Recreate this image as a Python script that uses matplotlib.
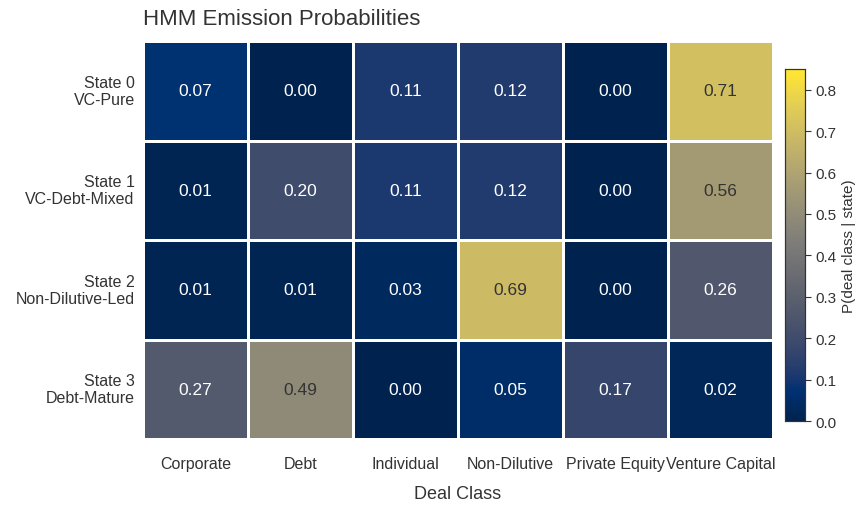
import numpy as np
import pandas as pd
import seaborn as sns
import matplotlib
matplotlib.use("Agg")
import matplotlib.pyplot as plt

deal_classes = ["Corporate", "Debt", "Individual", "Non-Dilutive",
                "Private Equity", "Venture Capital"]
states = ["State 0\nVC-Pure", "State 1\nVC-Debt-Mixed",
          "State 2\nNon-Dilutive-Led", "State 3\nDebt-Mature"]

state0 = [0.07, 0.00, 0.11, 0.12, 0.00, 0.71]
state1 = [0.01, 0.20, 0.11, 0.12, 0.00, 0.56]
state2 = [0.01, 0.01, 0.03, 0.69, 0.00, 0.26]
state3 = [0.27, 0.49, 0.00, 0.05, 0.17, 0.02]

emis = pd.DataFrame([state0, state1, state2, state3],
                    index=states, columns=deal_classes)

plt.rcParams['font.family'] = ['Liberation Sans', 'DejaVu Sans']
txt = '#333333'
plt.rcParams['text.color'] = txt
plt.rcParams['axes.labelcolor'] = txt
plt.rcParams['xtick.color'] = txt
plt.rcParams['ytick.color'] = txt

fig = plt.figure(figsize=(8.59, 5.06), dpi=100)
ax = fig.add_axes([0.1665, 0.1304, 0.7334, 0.7866])
cax = fig.add_axes([0.9139, 0.166, 0.0233, 0.6957])

sns.heatmap(emis, ax=ax, cbar_ax=cax, cmap='cividis', vmin=0, vmax=0.85,
            annot=True, fmt='.2f', annot_kws={'fontsize': 12.5},
            linewidths=2, linecolor='white',
            cbar_kws={'label': 'P(deal class | state)'})

# light cells get dark numbers
for t in ax.texts:
    t.set_color(txt if float(t.get_text()) >= 0.45 else 'white')

ax.tick_params(length=0, labelsize=11.5)
ax.tick_params(axis='y', pad=6)
ax.tick_params(axis='x', pad=12)
ax.set_yticklabels(ax.get_yticklabels(), rotation=0, ha='right')
ax.set_xticklabels(ax.get_xticklabels(), rotation=0)
ax.set_xlabel('Deal Class', fontsize=13, labelpad=10)
ax.set_ylabel('')
ax.set_title('HMM Emission Probabilities', loc='left', fontsize=16, pad=12)

cax.set_yticks([0, 0.1, 0.2, 0.3, 0.4, 0.5, 0.6, 0.7, 0.8])
cax.tick_params(labelsize=11, length=4, width=0.8)
cax.yaxis.label.set_size(11)
for s in cax.spines.values():
    s.set_visible(True)
    s.set_linewidth(0.8)
    s.set_color(txt)

fig.savefig('out.png', dpi=100)
